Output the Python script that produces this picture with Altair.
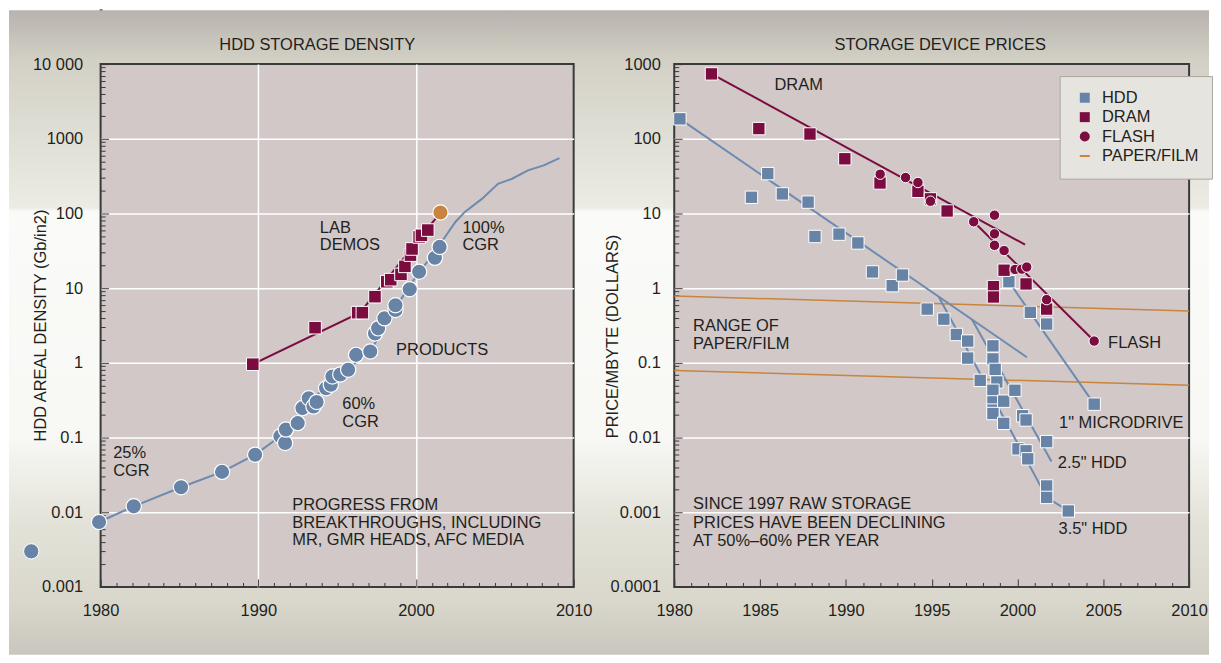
import altair as alt
import pandas as pd

FONT = "Liberation Sans"
FS = 16.5
TXT = "#231f20"
BLUE = "#6783a5"
BLUE_LINE = "#6d8ab0"
MAROON = "#7a0c40"
ORANGE = "#c9853e"
PLOT_BG = "#d1c8c7"
GRID = "#ffffff"
TICK = "#3a3a3a"

# ---------------- left panel: HDD storage density ----------------
prod_year = [1979.9, 1982.1, 1985.1, 1987.7, 1989.8, 1991.4, 1991.7, 1991.75, 1992.5, 1992.8,
             1993.2, 1993.5, 1993.7, 1994.3, 1994.6, 1994.7, 1995.2, 1995.7, 1996.2, 1997.1,
             1997.4, 1997.6, 1998.0, 1998.7, 1998.7, 1999.6, 2000.2, 2001.2, 2001.5]
prod_val = [0.0074, 0.012, 0.0216, 0.0347, 0.059, 0.104, 0.0845, 0.128, 0.156, 0.248,
            0.336, 0.26, 0.30, 0.458, 0.51, 0.656, 0.70, 0.81, 1.28, 1.42,
            2.48, 2.9, 3.95, 5.1, 5.9, 9.7, 16.6, 25.5, 35.7]

prod_line_year = [1979.9, 1982.1, 1985.1, 1987.7, 1989.8, 1991.4, 1993.2, 1995.2, 1997.1, 1998.7,
                  2000.2, 2001.5, 2001.7, 2002.5, 2003.1, 2004.2, 2005.2, 2006.1, 2007.1, 2008.1, 2009.1]
prod_line_val = [0.0074, 0.012, 0.0216, 0.0347, 0.059, 0.104, 0.30, 0.70, 1.42, 5.5,
                 16.6, 35.7, 43.8, 77, 105, 158, 250, 292, 378, 440, 551]

demo_year = [1989.65, 1993.6, 1996.3, 1996.6, 1997.4, 1998.15, 1998.4, 1999.05, 1999.3, 1999.65,
             1999.75, 2000.2, 2000.35, 2000.75]
demo_val = [0.96, 2.96, 4.7, 4.7, 7.7, 12.2, 13.0, 15.3, 19.6, 27.7, 33.5, 48.5, 51, 60]

demo_line_year = [1989.65, 1996.45, 2001.55]
demo_line_val = [0.96, 4.7, 103]

best_demo_year = [2001.55]
best_demo_val = [103]

early_year = [1975.6]
early_val = [0.003]

left_note_text = ["LAB", "DEMOS", "100%", "CGR", "PRODUCTS", "60%", "CGR", "25%", "CGR",
                  "PROGRESS FROM", "BREAKTHROUGHS, INCLUDING", "MR, GMR HEADS, AFC MEDIA"]
left_note_year = [1993.9, 1993.9, 2002.95, 2002.95, 1998.74, 1995.33, 1995.33, 1980.8, 1980.8,
                  1992.15, 1992.15, 1992.15]
left_note_val = [64.7, 37.3, 64.7, 37.3, 1.47, 0.282, 0.16, 0.0628, 0.0356,
                 0.01265, 0.00724, 0.00423]

left_x_ticks = [1980, 1990, 2000, 2010]
left_x_labels = ["1980", "1990", "2000", "2010"]
left_x_minor = [y for y in range(1981, 2010) if y % 10 != 0]
left_y_ticks = [0.001, 0.01, 0.1, 1, 10, 100, 1000, 10000]
left_y_labels = ["0.001", "0.01", "0.1", "1", "10", "100", "1000", "10 000"]
left_y_minor = [m * 10.0 ** k for k in range(-3, 4) for m in range(2, 10)]

# ---------------- right panel: storage device prices ----------------
hdd_year = [1980.33, 1984.5, 1985.45, 1986.3, 1987.8, 1988.2, 1989.6, 1990.7, 1991.55, 1992.7,
            1993.3, 1994.74, 1995.71, 1996.44, 1997.1, 1997.1, 1997.83, 1998.57, 1998.57, 1998.7,
            1998.8, 1998.57, 1998.57, 1998.57, 1998.57, 1999.2, 1999.2, 1999.85, 2000.3, 2000.5,
            2000.03, 2000.5, 2000.6, 2001.7, 2001.7, 2001.7, 1999.5, 2000.75, 2001.7, 2004.47, 2002.96]
hdd_val = [185, 16.5, 34.2, 18.3, 14.2, 4.92, 5.29, 4.03, 1.65, 1.08,
           1.5, 0.525, 0.385, 0.24, 0.196, 0.116, 0.0583, 0.169, 0.113, 0.0817,
           0.0555, 0.043, 0.030, 0.0233, 0.021, 0.0307, 0.0155, 0.043, 0.0196, 0.0172,
           0.00706, 0.00664, 0.00519, 0.00883, 0.00225, 0.00158, 1.22, 0.475, 0.331, 0.028, 0.00104]

dram_year = [1982.17, 1984.93, 1987.91, 1989.94, 1991.99, 1994.2, 1994.93, 1995.9, 1999.22, 1998.6,
             1998.6, 2000.5, 2001.7]
dram_val = [740, 137, 116, 54, 25.6, 19.8, 15.7, 10.8, 1.74, 1.05, 0.762, 1.14, 0.525]

flash_year = [1992.0, 1993.48, 1994.2, 1994.93, 1997.45, 1998.66, 1998.66, 1998.66, 1999.22, 1999.86,
              2000.25, 2000.54, 2001.7, 2004.47]
flash_val = [33.6, 30.3, 26.0, 14.6, 7.75, 9.5, 5.34, 3.75, 3.19, 1.78, 1.8, 1.92, 0.703, 0.196]

hdd_line_id = ["all", "all", "3.5", "3.5", "3.5", "2.5", "2.5", "1", "1"]
hdd_line_year = [1980.33, 2000.55, 1995.42, 2001.7, 2002.96, 1997.35, 2001.98, 1999.5, 2004.47]
hdd_line_val = [185, 0.119, 0.76, 0.00158, 0.00104, 0.38, 0.00477, 1.22, 0.028]

chip_line_id = ["DRAM", "DRAM", "FLASH", "FLASH"]
chip_line_year = [1982.17, 2000.44, 1997.45, 2004.47]
chip_line_val = [740, 3.83, 7.75, 0.196]

paper_line_id = ["high", "high", "low", "low"]
paper_line_year = [1980, 2010, 1980, 2010]
paper_line_val = [0.785, 0.494, 0.0793, 0.050]

right_note_text = ["DRAM", "RANGE OF", "PAPER/FILM", "SINCE 1997 RAW STORAGE",
                   "PRICES HAVE BEEN DECLINING", "AT 50%–60% PER YEAR", "FLASH",
                   '1" MICRODRIVE', '2.5" HDD', '3.5" HDD']
right_note_year = [1985.84, 1981.1, 1981.1, 1981.1, 1981.1, 1981.1, 2005.28, 2002.42, 2002.35, 2002.39]
right_note_val = [519, 0.314, 0.177, 0.00128, 0.000718, 0.000414, 0.183, 0.0155, 0.00462, 0.000589]

right_x_ticks = [1980, 1985, 1990, 1995, 2000, 2005, 2010]
right_x_labels = ["1980", "1985", "1990", "1995", "2000", "2005", "2010"]
right_x_minor = [y for y in range(1981, 2010) if y % 5 != 0]
right_y_ticks = [0.0001, 0.001, 0.01, 0.1, 1, 10, 100, 1000]
right_y_labels = ["0.0001", "0.001", "0.01", "0.1", "1", "10", "100", "1000"]
right_y_minor = [m * 10.0 ** k for k in range(-4, 3) for m in range(2, 10)]

series_domain = ["HDD", "DRAM", "FLASH", "PAPER/FILM"]
series_colors = [BLUE, MAROON, MAROON, ORANGE]
series_shapes = ["square", "square", "circle", "M-1,-0.2H1V0.2H-1Z"]

# background gradient stops (offset, colour)
bg_stops = [(0.0, "#b8b3ae"), (0.08, "#d3d1c6"), (0.306, "#ecece4"), (0.312, "#fafaf8"),
            (0.66, "#f8f8f5"), (0.80, "#e3e2d8"), (0.92, "#d9d7cc"), (1.0, "#c9c6bd")]


def label_expr(values, labels):
    parts = [f"datum.value == {v} ? '{l}'" for v, l in zip(values, labels)]
    return " : ".join(parts) + " : ''"


def hide_edges(lo, hi):
    return {"condition": {"test": f"datum.value == {lo} || datum.value == {hi}", "value": 0},
            "value": 1}


def tick_axis(orient, values, size):
    return alt.Axis(orient=orient, values=values, offset=-size, tickSize=size, ticks=True,
                    tickColor=TICK, tickWidth=1, labels=False, domain=False, grid=False,
                    title=None, zindex=0)


# ---------- background ----------
grad = alt.LinearGradient(
    gradient="linear",
    stops=[alt.GradientStop(offset=o, color=c) for o, c in bg_stops],
    x1=0, x2=0, y1=0, y2=1,
)
bg = alt.Chart(pd.DataFrame({"k": [0]})).mark_rect(fill=grad, strokeWidth=0).encode(
    x=alt.value(-92), x2=alt.value(1113), y=alt.value(0), y2=alt.value(647)
).properties(width=1, height=1)

# ---------- left panel ----------
lx_scale = alt.Scale(domain=[1980, 2010], nice=False, zero=False)
ly_scale = alt.Scale(type="log", domain=[0.001, 10000], nice=False)
lx_main = alt.Axis(
    orient="bottom", values=left_x_ticks, labelExpr=label_expr(left_x_ticks, left_x_labels),
    title=None, grid=True, gridColor=GRID, gridWidth=1.5, gridOpacity=hide_edges(1980, 2010),
    ticks=False, tickSize=0, domain=False, labelPadding=16, labelFlush=False, zindex=0)
ly_main = alt.Axis(
    orient="left", values=left_y_ticks, labelExpr=label_expr(left_y_ticks, left_y_labels),
    title="HDD AREAL DENSITY (Gb/in2)", titleX=-60, titleY=262, titleAlign="center",
    titleBaseline="middle", grid=True, gridColor=GRID, gridWidth=1.5,
    gridOpacity=hide_edges(0.001, 10000), ticks=False, tickSize=0, domain=False,
    labelPadding=18, labelFlush=False, zindex=0)


def LX(axis):
    return alt.X("x:Q", scale=lx_scale, axis=axis)


def LY(axis):
    return alt.Y("y:Q", scale=ly_scale, axis=axis)


l_prod_line = alt.Chart(pd.DataFrame({"x": prod_line_year, "y": prod_line_val})).mark_line(
    color=BLUE_LINE, strokeWidth=2).encode(LX(lx_main), LY(ly_main))
l_demo_line = alt.Chart(pd.DataFrame({"x": demo_line_year, "y": demo_line_val})).mark_line(
    color=MAROON, strokeWidth=2).encode(LX(tick_axis("bottom", left_x_ticks, 8)),
                                        LY(tick_axis("left", left_y_ticks, 8)))
l_demo = alt.Chart(pd.DataFrame({"x": demo_year, "y": demo_val})).mark_point(
    shape="square", filled=True, size=160, fill=MAROON, stroke="white", strokeWidth=1,
    opacity=1).encode(LX(tick_axis("bottom", left_x_minor, 4.5)),
                      LY(tick_axis("left", left_y_minor, 4.5)))
l_prod = alt.Chart(pd.DataFrame({"x": prod_year, "y": prod_val})).mark_point(
    shape="circle", filled=True, size=235, fill=BLUE, stroke="white", strokeWidth=1.2,
    opacity=1).encode(LX(None), LY(None))
l_best = alt.Chart(pd.DataFrame({"x": best_demo_year, "y": best_demo_val})).mark_point(
    shape="circle", filled=True, size=235, fill=ORANGE, stroke="white", strokeWidth=1.2,
    opacity=1).encode(LX(None), LY(None))
l_early = alt.Chart(pd.DataFrame({"x": early_year, "y": early_val})).mark_point(
    shape="circle", filled=True, size=235, fill=BLUE, stroke="white", strokeWidth=1,
    opacity=1).encode(LX(None), LY(None))
l_notes = alt.Chart(pd.DataFrame({"x": left_note_year, "y": left_note_val,
                                  "t": left_note_text})).mark_text(
    align="left", baseline="middle", font=FONT, fontSize=FS, color=TXT).encode(
    LX(None), LY(None), text="t:N")

left = alt.layer(l_prod_line, l_demo_line, l_demo, l_prod, l_best, l_early, l_notes).resolve_axis(
    x="independent", y="independent").properties(
    width=475, height=525,
    title=alt.TitleParams("HDD STORAGE DENSITY", font=FONT, fontSize=FS, fontWeight="normal",
                          color=TXT, anchor="middle", frame="group", dx=-20, dy=23, offset=13,
                          baseline="alphabetic"))

# ---------- right panel ----------
rx_scale = alt.Scale(domain=[1980, 2010], nice=False, zero=False)
ry_scale = alt.Scale(type="log", domain=[0.0001, 1000], nice=False)
rx_main = alt.Axis(
    orient="bottom", values=right_x_ticks, labelExpr=label_expr(right_x_ticks, right_x_labels),
    title=None, grid=False, ticks=False, tickSize=0, domain=False, labelPadding=16,
    labelFlush=False, zindex=0)
ry_main = alt.Axis(
    orient="left", values=right_y_ticks, labelExpr=label_expr(right_y_ticks, right_y_labels),
    title="PRICE/MBYTE (DOLLARS)", titleX=-62, titleY=273, titleAlign="center",
    titleBaseline="middle", grid=True, gridColor=GRID, gridWidth=1.5,
    gridOpacity=hide_edges(0.0001, 1000), ticks=False, tickSize=0, domain=False,
    labelPadding=14, labelFlush=False, zindex=0)


def RX(axis):
    return alt.X("x:Q", scale=rx_scale, axis=axis)


def RY(axis):
    return alt.Y("y:Q", scale=ry_scale, axis=axis)


legend = alt.Legend(title=None, orient="none", legendX=963, legendY=66, padding=13.5,
                    fillColor="#e6e4df", strokeColor="#aaa69f", labelFont=FONT,
                    labelFontSize=FS, labelColor=TXT, symbolSize=100, symbolStrokeWidth=0,
                    rowPadding=2.5, labelOffset=9, symbolOffset=3.5)
COLOR = alt.Color("s:N", scale=alt.Scale(domain=series_domain, range=series_colors), legend=legend)
SHAPE = alt.Shape("s:N", scale=alt.Scale(domain=series_domain, range=series_shapes), legend=legend)

r_paper = alt.Chart(pd.DataFrame({"x": paper_line_year, "y": paper_line_val,
                                  "id": paper_line_id})).mark_line(
    color=ORANGE, strokeWidth=1.5).encode(RX(rx_main), RY(ry_main), detail="id:N")
r_hdd_lines = alt.Chart(pd.DataFrame({"x": hdd_line_year, "y": hdd_line_val,
                                      "id": hdd_line_id})).mark_line(
    color=BLUE_LINE, strokeWidth=2).encode(RX(tick_axis("bottom", right_x_ticks, 8)),
                                           RY(tick_axis("left", right_y_ticks, 8)), detail="id:N")
r_chip_lines = alt.Chart(pd.DataFrame({"x": chip_line_year, "y": chip_line_val,
                                       "id": chip_line_id})).mark_line(
    color=MAROON, strokeWidth=2).encode(RX(tick_axis("bottom", right_x_minor, 4.5)),
                                        RY(tick_axis("left", right_y_minor, 4.5)), detail="id:N")

sq_df = pd.DataFrame({"x": hdd_year + dram_year, "y": hdd_val + dram_val,
                      "s": ["HDD"] * len(hdd_year) + ["DRAM"] * len(dram_year)})
r_squares = alt.Chart(sq_df).mark_point(filled=True, size=155, stroke="white", strokeWidth=1,
                                        opacity=1).encode(RX(None), RY(None), color=COLOR, shape=SHAPE)
fl_df = pd.DataFrame({"x": flash_year, "y": flash_val, "s": ["FLASH"] * len(flash_year)})
r_flash = alt.Chart(fl_df).mark_point(filled=True, size=110, stroke="white", strokeWidth=1,
                                      opacity=1).encode(RX(None), RY(None), color=COLOR, shape=SHAPE)
r_notes = alt.Chart(pd.DataFrame({"x": right_note_year, "y": right_note_val,
                                  "t": right_note_text})).mark_text(
    align="left", baseline="middle", font=FONT, fontSize=FS, color=TXT).encode(
    RX(None), RY(None), text="t:N")

right = alt.layer(r_paper, r_hdd_lines, r_chip_lines, r_squares, r_flash, r_notes).resolve_axis(
    x="independent", y="independent").properties(
    width=517, height=525,
    title=alt.TitleParams("STORAGE DEVICE PRICES", font=FONT, fontSize=FS, fontWeight="normal",
                          color=TXT, anchor="middle", frame="group", dx=8.5, dy=23, offset=13,
                          baseline="alphabetic"))

panels = alt.hconcat(left, right, spacing=101, bounds="flush")
chart = alt.vconcat(bg, panels, spacing=53, bounds="flush", padding=0).configure_view(
    fill=PLOT_BG, stroke="#3a3a3a", strokeWidth=2
).configure_axis(
    labelFont=FONT, labelFontSize=FS, labelColor=TXT, titleFont=FONT, titleFontSize=FS,
    titleFontWeight="normal", titleColor=TXT
)

chart.save("out.html", embed_options={"renderer": "svg", "actions": False})
